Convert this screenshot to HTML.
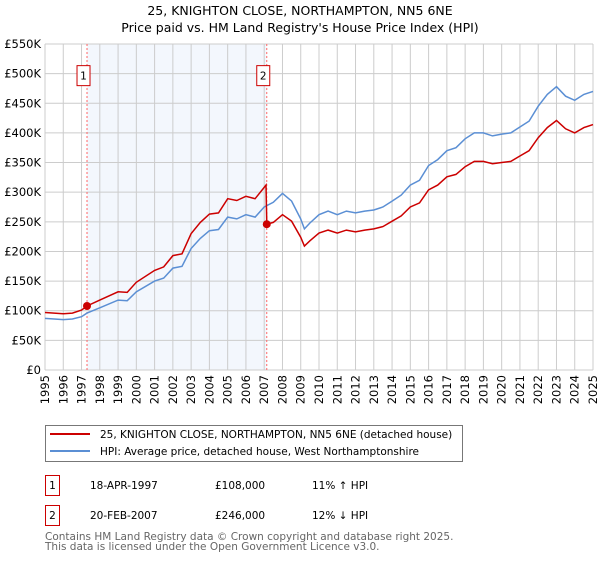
<!DOCTYPE html>
<html><head><meta charset="utf-8"><style>
body{margin:0;background:#fff;font-family:"DejaVu Sans","Liberation Sans",sans-serif;}
svg text{font-family:"DejaVu Sans","Liberation Sans",sans-serif;}
</style></head><body>
<svg id="chart" width="600" height="560" xmlns="http://www.w3.org/2000/svg">
<text x="300" y="15" text-anchor="middle" font-size="12.5">25, KNIGHTON CLOSE, NORTHAMPTON, NN5 6NE</text>
<text x="300" y="32" text-anchor="middle" font-size="12.5">Price paid vs. HM Land Registry's House Price Index (HPI)</text>
<g id="grid"></g><g id="axes"></g><g id="series"></g><g id="markers"></g>
<g>
<rect x="45.5" y="425.5" width="417" height="36" fill="#fff" stroke="#777"/>
<line x1="50" y1="434" x2="90" y2="434" stroke="#cc0000" stroke-width="2"/>
<text x="100" y="438" font-size="10.5">25, KNIGHTON CLOSE, NORTHAMPTON, NN5 6NE (detached house)</text>
<line x1="50" y1="451" x2="90" y2="451" stroke="#5b8fd4" stroke-width="2"/>
<text x="100" y="455" font-size="10.5">HPI: Average price, detached house, West Northamptonshire</text>
</g>
<g font-size="10.5">
<rect x="45.5" y="475.5" width="14" height="20" fill="#fff" stroke="#cc0000"/>
<text x="52.5" y="489" text-anchor="middle">1</text>
<text x="90" y="489">18-APR-1997</text><text x="215" y="489">£108,000</text><text x="312" y="489">11% ↑ HPI</text>
</g>
<g font-size="10.5">
<rect x="45.5" y="505.5" width="14" height="20" fill="#fff" stroke="#cc0000"/>
<text x="52.5" y="519" text-anchor="middle">2</text>
<text x="90" y="519">20-FEB-2007</text><text x="215" y="519">£246,000</text><text x="312" y="519">12% ↓ HPI</text>
</g>
<text x="45" y="540" font-size="10.5" fill="#666">Contains HM Land Registry data © Crown copyright and database right 2025.</text>
<text x="45" y="550" font-size="10.5" fill="#666">This data is licensed under the Open Government Licence v3.0.</text>
</svg>
<script>
const yearTicks=[1995,1996,1997,1998,1999,2000,2001,2002,2003,2004,2005,2006,2007,2008,2009,2010,2011,2012,2013,2014,2015,2016,2017,2018,2019,2020,2021,2022,2023,2024,2025];
const valueTicks=[0,50,100,150,200,250,300,350,400,450,500,550];
const valueTickLabels=["£0","£50K","£100K","£150K","£200K","£250K","£300K","£350K","£400K","£450K","£500K","£550K"];
const hpiYears=[1995,1996,1996.5,1997,1997.3,1998,1999,1999.5,2000,2001,2001.5,2002,2002.5,2003,2003.5,2004,2004.5,2005,2005.5,2006,2006.5,2007,2007.5,2008,2008.5,2009,2009.2,2009.5,2010,2010.5,2011,2011.5,2012,2012.5,2013,2013.5,2014,2014.5,2015,2015.5,2016,2016.5,2017,2017.5,2018,2018.5,2019,2019.5,2020,2020.5,2021,2021.5,2022,2022.5,2023,2023.5,2024,2024.5,2025];
const hpiValues=[87,85,86,90,96,105,118,117,132,150,155,172,175,205,222,235,237,258,255,262,258,275,283,298,285,255,238,248,262,268,262,268,265,268,270,275,285,295,312,320,345,355,370,375,390,400,400,395,398,400,410,420,445,465,478,462,455,465,470];
const priceYears=[1995,1996,1996.5,1997,1997.3,1998,1999,1999.5,2000,2001,2001.5,2002,2002.5,2003,2003.5,2004,2004.5,2005,2005.5,2006,2006.5,2007,2007.1,2007.14,2007.5,2008,2008.5,2009,2009.2,2009.5,2010,2010.5,2011,2011.5,2012,2012.5,2013,2013.5,2014,2014.5,2015,2015.5,2016,2016.5,2017,2017.5,2018,2018.5,2019,2019.5,2020,2020.5,2021,2021.5,2022,2022.5,2023,2023.5,2024,2024.5,2025];
const priceValues=[97,95,96,101,108,118,132,131,148,168,174,193,196,230,249,263,265,289,286,293,289,308,312,246,249,262,251,224,209,218,231,236,231,236,233,236,238,242,251,260,275,282,304,312,326,330,343,352,352,348,350,352,361,370,392,409,421,407,400,409,414];
const saleYears=[1997.3,2007.14];
const saleValues=[108,246];
const saleLabels=["1","2"];
const NS="http://www.w3.org/2000/svg";
const L=45,R=593,T=44,B=370;
const x=v=>L+(v-1995)/(2025-1995)*(R-L);
const y=v=>B-v/550*(B-T);
function mk(tag,attrs,parent){const e=document.createElementNS(NS,tag);for(const k in attrs)e.setAttribute(k,attrs[k]);parent.appendChild(e);return e;}
const grid=document.getElementById('grid'),axes=document.getElementById('axes'),ser=document.getElementById('series'),mkr=document.getElementById('markers');
const shade=mk('rect',{x:x(saleYears[0]),y:T,width:x(saleYears[1])-x(saleYears[0]),height:B-T,fill:'#eef3fc',opacity:0.7},grid);


yearTicks.forEach(yr=>{
  const g=mk('line',{x1:x(yr),x2:x(yr),y1:T,y2:B,stroke:'#ccc','stroke-width':1},grid);
  
  
  const t=mk('text',{x:0,y:0,'font-size':11.5,'text-anchor':'end',transform:`translate(${x(yr)+4},${B+5}) rotate(-90)`},axes);
  t.textContent=yr;
  
  
});
valueTicks.forEach((v,i)=>{
  const g=mk('line',{x1:L,x2:R,y1:y(v),y2:y(v),stroke:'#ccc','stroke-width':1},grid);
  
  
  const t=mk('text',{x:L-4,y:y(v)+4,'font-size':11.5,'text-anchor':'end'},axes);
  t.textContent=valueTickLabels[i];
  
  
});
saleYears.forEach((yr,i)=>{
  const d=mk('line',{x1:x(yr),x2:x(yr),y1:T,y2:B,stroke:'#ff6666','stroke-width':1,'stroke-dasharray':'2,2'},grid);
  
  
  const bx=mk('rect',{x:x(yr)-10,y:y(500)-8,width:13,height:20,fill:'#fff',stroke:'#cc0000'},mkr);
  
  
  const t=mk('text',{x:x(yr)-3.5,y:y(500)+6,'font-size':10.5,'text-anchor':'middle'},mkr);
  t.textContent=saleLabels[i];
  
  
});
const pts=(xs,vs)=>xs.map((a,i)=>x(a).toFixed(1)+','+y(vs[i]).toFixed(1)).join(' ');
const hl=mk('polyline',{points:pts(hpiYears,hpiValues),fill:'none',stroke:'#5b8fd4','stroke-width':1.5},ser);


const pl=mk('polyline',{points:pts(priceYears,priceValues),fill:'none',stroke:'#cc0000','stroke-width':1.5},ser);


saleYears.forEach((yr,i)=>{
  const c=mk('circle',{cx:x(yr),cy:y(saleValues[i]),r:4,fill:'#cc0000'},mkr);
  
  
});
</script>
</body></html>
